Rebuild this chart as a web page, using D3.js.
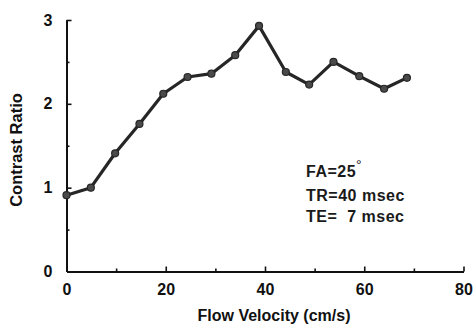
<!DOCTYPE html>
<html>
<head>
<meta charset="utf-8">
<script src="https://cdn.jsdelivr.net/npm/d3@7"></script>
<style>
  html, body { margin: 0; padding: 0; background: #fff; }
  svg { display: block; font-family: "Liberation Sans", Arial, Helvetica, sans-serif; }
</style>
</head>
<body>
<svg id="chart" width="476" height="328"></svg>
<script>
// ---- data ----
const flowVelocity = [0, 4.9, 9.8, 14.7, 19.5, 24.4, 29.2, 34.0, 38.8, 44.2, 48.9, 53.8, 59.0, 64.0, 68.6];
const contrastRatio = [0.91, 1.0, 1.41, 1.76, 2.12, 2.32, 2.36, 2.58, 2.93, 2.38, 2.23, 2.5, 2.33, 2.18, 2.31];
const xMajorTicks = [0, 20, 40, 60, 80];
const xMinorTicks = [10, 30, 50, 70];
const yMajorTicks = [0, 1, 2, 3];
const yMinorTicks = [0.5, 1.5, 2.5];
const xTitle = "Flow Velocity (cm/s)";
const yTitle = "Contrast Ratio";
const annotations = ["FA=25", "TR=40 msec", "TE=  7 msec"];

const svg = d3.select("#chart");
const x = d3.scaleLinear().domain([0, 80]).range([66.5, 463.5]);
const y = d3.scaleLinear().domain([0, 3]).range([271.5, 20]);

const axisColor = "#111";

// y axis (ticks inward)
const gy = svg.append("g").attr("transform", `translate(${x(0)},0)`);
gy.call(d3.axisLeft(y).tickValues(yMajorTicks).tickSizeInner(-5).tickSizeOuter(0).tickPadding(14).tickFormat(d3.format("d")));
gy.append("g").call(d3.axisLeft(y).tickValues(yMinorTicks).tickSizeInner(-3).tickSizeOuter(0).tickFormat(""));
gy.selectAll("path").attr("stroke", axisColor).attr("stroke-width", 2);
gy.selectAll("line").attr("stroke", axisColor).attr("stroke-width", 1.6);
gy.selectAll("text").attr("font-size", 16).attr("font-weight", "bold").attr("fill", "#111");

// x axis (ticks inward / upward)
const gx = svg.append("g").attr("transform", `translate(0,${y(0)})`);
gx.call(d3.axisBottom(x).tickValues(xMajorTicks).tickSizeInner(-5).tickSizeOuter(0).tickPadding(12).tickFormat(d3.format("d")));
gx.append("g").call(d3.axisBottom(x).tickValues(xMinorTicks).tickSizeInner(-3).tickSizeOuter(0).tickFormat(""));
gx.selectAll("path").attr("stroke", axisColor).attr("stroke-width", 2);
gx.selectAll("line").attr("stroke", axisColor).attr("stroke-width", 1.6);
gx.selectAll("text").attr("font-size", 16).attr("font-weight", "bold").attr("fill", "#111");
gx.selectAll(".tick").filter(d => d === 0).select("line").remove();
gy.selectAll(".tick").filter(d => d === 0).select("line").remove();

// axis titles
svg.append("text")
  .attr("x", 274).attr("y", 321)
  .attr("text-anchor", "middle")
  .attr("font-size", 16).attr("font-weight", "bold").attr("fill", "#111")
  .text(xTitle);

svg.append("text")
  .attr("transform", "translate(22,150) rotate(-90)")
  .attr("text-anchor", "middle")
  .attr("font-size", 16.5).attr("font-weight", "bold").attr("fill", "#111")
  .text(yTitle);

// line + markers
const data = flowVelocity.map((v, i) => ({ v, c: contrastRatio[i] }));
svg.append("path")
  .datum(data)
  .attr("fill", "none")
  .attr("stroke", "#262626")
  .attr("stroke-width", 3.2)
  .attr("stroke-linejoin", "round")
  .attr("d", d3.line().x(d => x(d.v)).y(d => y(d.c)));

svg.selectAll("circle.pt")
  .data(data)
  .join("circle")
  .attr("class", "pt")
  .attr("cx", d => x(d.v))
  .attr("cy", d => y(d.c))
  .attr("r", 3.5)
  .attr("fill", "#4a4a4a")
  .attr("stroke", "#262626")
  .attr("stroke-width", 1.2);

// annotation block
const ann = svg.append("g").attr("font-size", 16).attr("font-weight", "bold").attr("fill", "#1a1a1a")
  .attr("letter-spacing", 0.5);
const baselines = [177, 201, 222];
annotations.forEach((t, i) => {
  const tx = ann.append("text").attr("x", 306).attr("y", baselines[i]).style("white-space", "pre").text(t);
  if (i === 0) {
    tx.append("tspan").attr("dy", -7).attr("font-size", 14).attr("font-weight", "normal").text("°");
  }
});
</script>
</body>
</html>
